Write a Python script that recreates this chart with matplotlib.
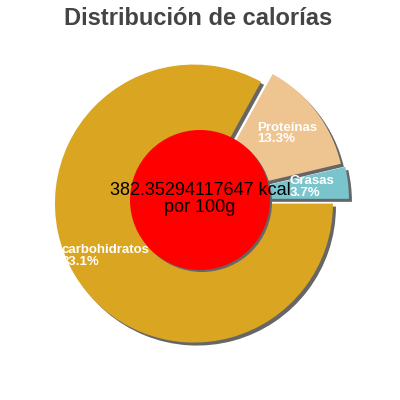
import matplotlib.pyplot as plt
from matplotlib.patches import Circle

# slices go counter-clockwise starting at 3 o'clock
labels = ["Grasas", "Proteínas", "carbohidratos"]
percents = [3.7, 13.3, 83.1]
colors = ["#7AC5CD", "#EEC591", "#DAA520"]
energy_text = "382.35294117647 kcal\npor 100g"
title = "Distribución de calorías"

plt.rcParams['font.family'] = ['Liberation Sans', 'DejaVu Sans']

fig = plt.figure(figsize=(4, 4), dpi=100)
ax = fig.add_axes([0, 0, 1, 1])
ax.set_xlim(0, 400)
ax.set_ylim(0, 400)
ax.set_aspect('equal')
ax.set_axis_off()

radius = 139
explode = [10, 7, 7]  # pixels, pie uses absolute data units here

# shadow first, shifted right and down
ax.pie(percents, explode=explode, radius=radius, center=(203, 197),
       startangle=0, counterclock=True, colors=["#666666"] * 3,
       wedgeprops=dict(linewidth=0), normalize=True)

texts = [f"{lab}\n{p}%" for lab, p in zip(labels, percents)]
wedges, txts = ax.pie(percents, explode=explode, radius=radius, center=(200, 200),
                      startangle=0, counterclock=True, colors=colors,
                      labels=texts, labeldistance=0.74,
                      wedgeprops=dict(linewidth=0), normalize=True,
                      textprops=dict(color="white", fontsize=9.5, fontweight="bold"))
for t in txts:
    t.set_horizontalalignment("center")
    t.set_verticalalignment("center")
    t.set_multialignment("left")
    t.set_linespacing(0.95)
    t.set_zorder(5)

# red centre with its shadow
ax.add_patch(Circle((202, 198), 70, color="#666666", lw=0, zorder=6))
ax.add_patch(Circle((200, 200), 70, color="#FF0000", lw=0, zorder=7))
ax.text(200, 201, energy_text, ha="center", va="center", fontsize=13,
        color="black", linespacing=1.05, zorder=8)

ax.set_xlim(0, 400)
ax.set_ylim(0, 400)

fig.text(0.495, 0.9375, title, ha="center", va="baseline", fontsize=17,
         fontweight="bold", color="#444444")

fig.savefig("out.png", dpi=100)
